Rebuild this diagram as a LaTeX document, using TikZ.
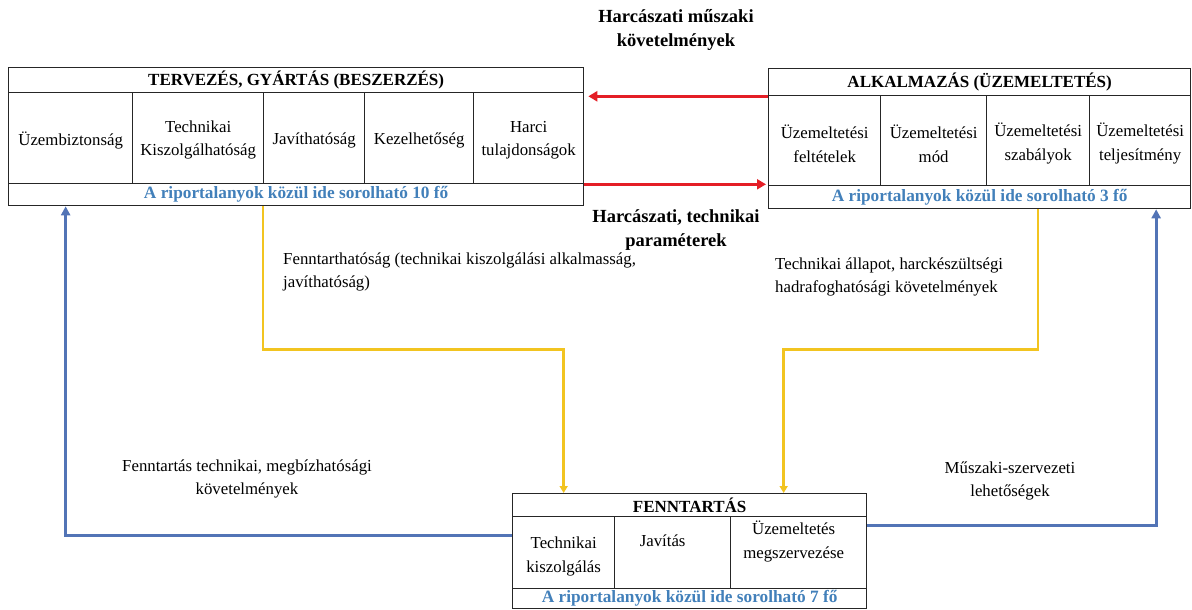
\documentclass[tikz,border=0pt]{standalone}
\usepackage{fontspec}
\setmainfont{Liberation Serif}
\usetikzlibrary{arrows.meta}
\definecolor{flowred}{RGB}{228,30,38}
\definecolor{flowblue}{RGB}{82,116,182}
\definecolor{flowyellow}{RGB}{242,196,32}
\definecolor{countblue}{RGB}{66,128,186}
\begin{document}
\begin{tikzpicture}[x=1pt,y=-1pt,
  frame/.style={draw=black!85, line width=1.3pt, inner sep=0pt, anchor=north west},
  txt/.style={align=center, inner sep=0pt, font=\fontsize{16.8}{23.5}\selectfont},
  ltxt/.style={align=left, inner sep=0pt, anchor=north west, font=\fontsize{16.8}{23}\selectfont},
  headtxt/.style={inner sep=0pt, font=\bfseries\fontsize{17}{20}\selectfont},
  counttxt/.style={inner sep=0pt, text=countblue, font=\bfseries\fontsize{17.3}{20}\selectfont},
  boldlbl/.style={align=center, inner sep=0pt, font=\bfseries\fontsize{18.5}{24}\selectfont},
  redflow/.style={draw=flowred, line width=3.2pt, -{Triangle[length=9pt,width=10pt]}},
  yellowflow/.style={draw=flowyellow, line width=2.6pt, -{Triangle[length=7pt,width=8pt]}},
  blueflow/.style={draw=flowblue, line width=2.8pt, -{Triangle[length=9pt,width=9pt]}},
]
\useasboundingbox (0,0) rectangle (1192,610);

% --- Tervezés, gyártás box ---
\node[frame, minimum width=575pt, minimum height=25pt] (tlhead) at (8,67) {};
\node[headtxt] (tlheadt) at (tlhead.center) {TERVEZÉS, GYÁRTÁS (BESZERZÉS)};
\node[frame, minimum width=124pt, minimum height=91pt] (tlc1) at (8,92) {};
\node[frame, minimum width=131pt, minimum height=91pt] (tlc2) at (132,92) {};
\node[frame, minimum width=101pt, minimum height=91pt] (tlc3) at (263,92) {};
\node[frame, minimum width=109pt, minimum height=91pt] (tlc4) at (364,92) {};
\node[frame, minimum width=110pt, minimum height=91pt] (tlc5) at (473,92) {};
\node[txt] (tlt1) at ([yshift=-2pt]tlc1.center) {Üzembiztonság};
\node[txt] (tlt2) at ([yshift=-2pt]tlc2.center) {Technikai\\Kiszolgálhatóság};
\node[txt] (tlt3) at ([yshift=-2pt]tlc3.center) {Javíthatóság};
\node[txt] (tlt4) at ([yshift=-2pt]tlc4.center) {Kezelhetőség};
\node[txt] (tlt5) at ([yshift=-2pt]tlc5.center) {Harci\\tulajdonságok};
\node[frame, minimum width=575pt, minimum height=22pt] (tlcount) at (8,183) {};
\node[counttxt] (tlcountt) at (tlcount.center) {A riportalanyok közül ide sorolható 10 fő};

% --- Alkalmazás box ---
\node[frame, minimum width=422pt, minimum height=27pt] (trhead) at (768,68) {};
\node[headtxt] (trheadt) at (trhead.center) {ALKALMAZÁS (ÜZEMELTETÉS)};
\node[frame, minimum width=112pt, minimum height=90pt] (trc1) at (768,95) {};
\node[frame, minimum width=106pt, minimum height=90pt] (trc2) at (880,95) {};
\node[frame, minimum width=103pt, minimum height=90pt] (trc3) at (986,95) {};
\node[frame, minimum width=101pt, minimum height=90pt] (trc4) at (1089,95) {};
\node[txt] (trt1) at ([yshift=-3pt]trc1.center) {Üzemeltetési\\feltételek};
\node[txt] (trt2) at ([yshift=-3pt]trc2.center) {Üzemeltetési\\mód};
\node[txt] (trt3) at ([yshift=-3pt]trc3.center) {Üzemeltetési\\szabályok};
\node[txt] (trt4) at ([yshift=-3pt]trc4.center) {Üzemeltetési\\teljesítmény};
\node[frame, minimum width=422pt, minimum height=23pt] (trcount) at (768,185) {};
\node[counttxt] (trcountt) at (trcount.center) {A riportalanyok közül ide sorolható 3 fő};

% --- Fenntartás box ---
\node[frame, minimum width=354pt, minimum height=23pt] (bhead) at (512,493) {};
\node[headtxt] (bheadt) at (bhead.center) {FENNTARTÁS};
\node[frame, minimum width=102pt, minimum height=72pt] (bc1) at (512,516) {};
\node[frame, minimum width=116pt, minimum height=72pt] (bc2) at (614,516) {};
\node[frame, minimum width=136pt, minimum height=72pt] (bc3) at (730,516) {};
\node[txt] (bt1) at ([yshift=-4pt]bc1.center) {Technikai\\kiszolgálás};
\node[txt] (bt2) at ([yshift=12pt,xshift=-10pt]bc2.center) {Javítás};
\node[txt] (bt3) at ([yshift=11pt,xshift=-5pt]bc3.center) {Üzemeltetés\\megszervezése};
\node[frame, minimum width=354pt, minimum height=20pt] (bcount) at (512,588) {};
\node[counttxt] (bcountt) at (bcount.center) {A riportalanyok közül ide sorolható 7 fő};

% --- connectors ---
\draw[redflow] (trhead.south west) -- ([xshift=4pt]trhead.south west -| tlhead.east);
\draw[redflow] (tlc5.south east) -- ([xshift=-2pt]tlc5.south east -| trhead.west);

\draw[yellowflow] (tlcount.south -| tlc3.west) -- ++(0,143) -| (bhead.north -| bc1.center);
\draw[yellowflow] (trcount.south -| trc3.center) -- ++(0,140) -| ([xshift=94pt]bhead.north);

\draw[blueflow] ([yshift=17pt]bc1.west) -| ([xshift=-5pt]tlcount.south -| tlc1.center);
\draw[blueflow] ([yshift=27pt]bc3.east) -| ([xshift=16pt]trcount.south -| trc4.center);

% --- connector labels ---
\node[boldlbl] (lreq) at (676,30) {Harcászati műszaki\\követelmények};
\node[boldlbl] (lpar) at (676,230) {Harcászati, technikai\\paraméterek};
\node[ltxt] (lfen) at (283,253) {Fenntarthatóság (technikai kiszolgálási alkalmasság,\\javíthatóság)};
\node[ltxt] (lall) at (775,258) {Technikai állapot, harckészültségi\\hadrafoghatósági követelmények};
\node[txt] (lmeg) at (247,479) {Fenntartás technikai, megbízhatósági\\követelmények};
\node[txt] (lmus) at (1010,481) {Műszaki-szervezeti\\lehetőségek};
\end{tikzpicture}
\end{document}
